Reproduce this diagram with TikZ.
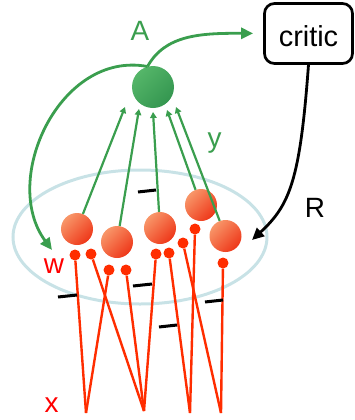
\documentclass[tikz,border=0pt]{standalone}
\usepackage{fontspec}
\setmainfont{Liberation Sans}
\usetikzlibrary{arrows.meta,shapes.geometric}
\definecolor{ggreen}{RGB}{58,158,78}
\definecolor{rline}{RGB}{255,45,0}
\definecolor{rtext}{RGB}{255,0,0}
\definecolor{ellc}{RGB}{200,226,230}
\definecolor{rlight}{RGB}{248,150,105}
\definecolor{rdark}{RGB}{238,55,25}
\definecolor{glight}{RGB}{85,182,105}
\definecolor{gdark}{RGB}{52,150,80}
\tikzset{
  redn/.style={circle,minimum size=32bp,inner sep=0pt,top color=rlight,bottom color=rdark,shading angle=45},
  greenn/.style={circle,minimum size=42bp,inner sep=0pt,top color=glight,bottom color=gdark,shading angle=45},
  dotn/.style={circle,minimum size=11bp,inner sep=0pt,fill=rline},
  rwire/.style={draw=rline,line width=2.4bp},
  garrow/.style={draw=ggreen,line width=2.2bp,-{Triangle[length=6bp,width=6.5bp]}},
  bigg/.style={draw=ggreen,line width=2.8bp,-{Triangle[length=12bp,width=11bp]}},
  bigk/.style={draw=black,line width=2.8bp,-{Triangle[length=12bp,width=11bp]}},
  bar/.style={draw=black,line width=3bp},
  critbox/.style={draw=black,line width=2.7bp,rounded corners=10bp,minimum width=88bp,minimum height=60bp,inner sep=0pt,text height=26bp,text depth=0pt,font=\fontsize{29}{30}\selectfont},
  lbl/.style={inner sep=0pt,anchor=base,font=\fontsize{28}{30}\selectfont}
}
\begin{document}
\begin{tikzpicture}[x=1bp,y=-1bp]
\useasboundingbox (0,0) rectangle (355,420);
% population ellipse
\draw[ellc,line width=3bp] (140,237) ellipse [x radius=127, y radius=67];
% bottom input points
\coordinate (B1) at (86,413);
\coordinate (B2) at (144,411);
\coordinate (B3) at (190,413);
\coordinate (B4) at (221,413);
% synapse dots
\node[dotn] (a) at (75,255) {};
\node[dotn] (b) at (91,254) {};
\node[dotn] (c) at (109,270) {};
\node[dotn] (d) at (126,270) {};
\node[dotn] (e) at (156,254) {};
\node[dotn] (f) at (169,253) {};
\node[dotn] (gg) at (183,243) {};
\node[dotn] (h) at (195,229) {};
\node[dotn] (i) at (223,263) {};
\draw[rwire] (a) -- (B1);
\draw[rwire] (c) -- (B1);
\draw[rwire] (b) -- (B2);
\draw[rwire] (d) -- (B2);
\draw[rwire] (e) -- (B2);
\draw[rwire] (f) -- (B3);
\draw[rwire] (h) -- (B3);
\draw[rwire] (gg) -- (B4);
\draw[rwire] (i) -- (B4);
% neurons
\node[redn] (r1) at (77,229) {};
\node[redn] (r2) at (117,242) {};
\node[redn] (r3) at (160,228) {};
\node[redn] (r4) at (201,205) {};
\node[redn] (r5) at (225.5,236) {};
% output unit
\node[greenn] (g) at (153,87) {};
\coordinate (t1) at (125,107);
\coordinate (t2) at (139,109);
\coordinate (t3) at (153,112);
\coordinate (t4) at (167,110);
\coordinate (t5) at (176,107);
\draw[garrow] (r1) -- (t1);
\draw[garrow] (r2) -- (t2);
\draw[garrow] (r3) -- (t3);
\draw[garrow] (r4) -- (t4);
\draw[garrow] (r5) -- (t5);
% inhibitory bars
\draw[bar] (138,192) -- (156,190);
\draw[bar] (58,297) -- (77,295);
\draw[bar] (133,286) -- (152,284);
\draw[bar] (159,327) -- (177,325);
\draw[bar] (205,302) -- (223,300);
% critic
\node[critbox] (critic) at (308.5,33.5) {critic};
\coordinate (wtip) at (52,250);
\coordinate (rtip) at (252,240);
\draw[bigg,shorten >=10bp] (g.105) .. controls (165,35) and (200,33) .. (critic.west);
\draw[bigg] (g.105) .. controls (60,50) and (0,180) .. (wtip);
\draw[bigk] (critic.south) .. controls (300,180) and (290,205) .. (rtip);
% labels
\node[lbl,text=ggreen] (lA) at (140,40) {A};
\node[lbl,text=ggreen] (ly) at (214.5,147) {y};
\node[lbl] (lR) at (315,217) {R};
\node[lbl,text=rtext] (lw) at (54,273) {w};
\node[lbl,text=rtext] (lx) at (51.5,412) {x};
\end{tikzpicture}
\end{document}
